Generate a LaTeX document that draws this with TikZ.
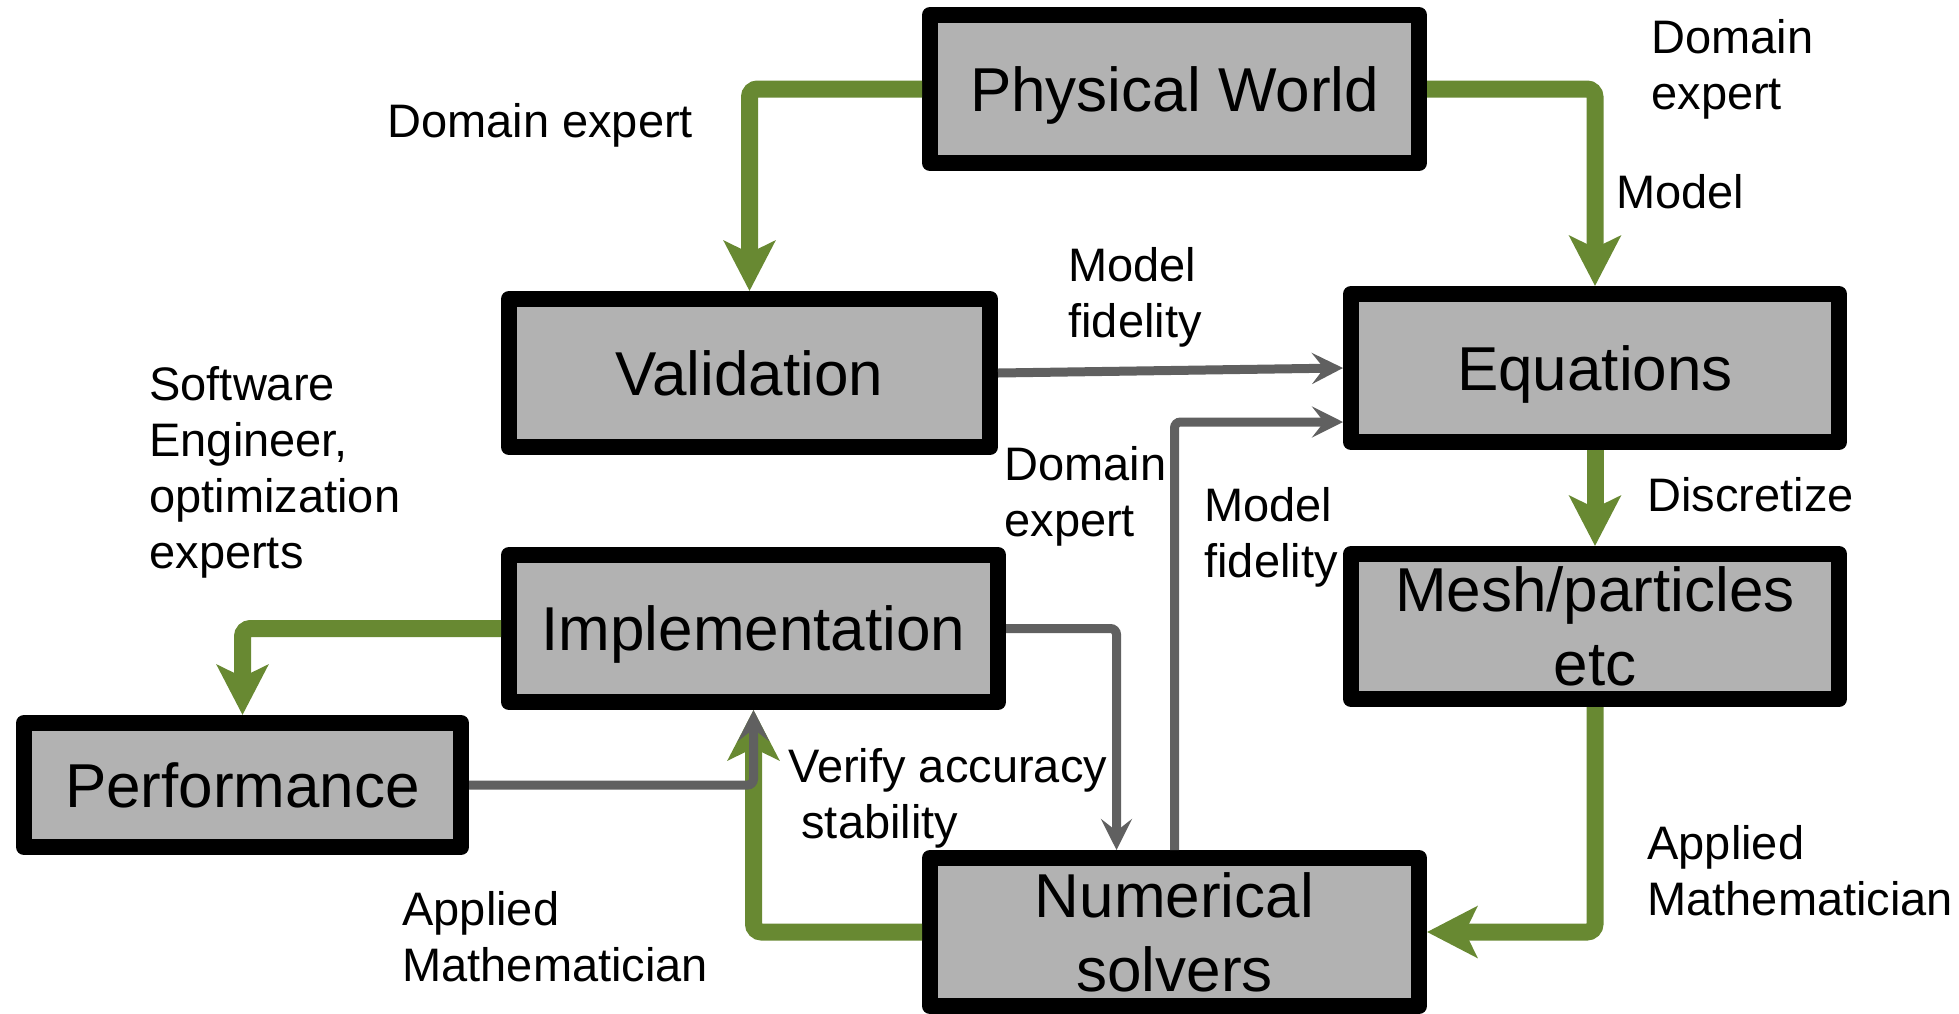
\documentclass[tikz,border=0pt]{standalone}
\usepackage{fontspec}
\setmainfont{Liberation Sans}
\usetikzlibrary{arrows.meta,positioning,calc}
\definecolor{boxgray}{RGB}{178,178,178}
\definecolor{leaf}{RGB}{104,137,50}
\definecolor{rod}{RGB}{96,96,96}
\newcommand{\boxfont}{\fontsize{31}{37}\selectfont}
\newcommand{\notefont}{\fontsize{23.5}{28}\selectfont}

\begin{document}
\begin{tikzpicture}[x=0.5pt,y=-0.5pt,
    block/.style={draw=black,line width=8pt,line join=round,fill=boxgray,
      font=\boxfont,inner sep=0pt,minimum width=244.5pt,minimum height=74pt},
    flat/.style={block,text depth=0pt},
    tall/.style={block,align=center},
    note/.style={anchor=north west,align=left,inner sep=0pt,font=\notefont},
    work/.style={draw=leaf,line width=8.5pt,rounded corners=4pt,
      -{Stealth[length=25pt,width=25.5pt,inset=6pt]}},
    check/.style={draw=rod,line width=4.5pt,rounded corners=3pt,
      -{Stealth[length=15.5pt,width=15.5pt,inset=6pt]}}]
      \useasboundingbox (0,0) rectangle (1959,1013);
      % Stages
      \node[flat] (world) at (1174.5,89) {Physical World};
      \node[flat,minimum width=240.5pt] (valid) at (749.5,373) {Validation};
      \node[flat,minimum width=244pt] (eqn) at (1595,368) {Equations};
      \node[tall,minimum width=244pt,minimum height=72.5pt] (mesh) at (1595,626.5) {Mesh/particles\\etc};
      \node[flat,minimum height=73.5pt] (impl) at (753.5,628.5) {Implementation};
      \node[flat,minimum width=218.5pt,minimum height=62pt] (perf) at (242.5,785) {Performance};
      \node[tall] (solver) at (1174.5,932) {Numerical\\solvers};
      % Who does it
      \node[note] (expA) at (387,103) {Domain expert};
      \node[note] (expB) at (1651,19) {Domain\\expert};
      \node[note] (model) at (1616,174) {Model};
      \node[note] (fidA) at (1068,247) {Model\\fidelity};
      \node[note] (soft) at (149,366) {Software\\Engineer,\\optimization\\experts};
      \node[note] (disc) at (1647,477) {Discretize};
      \node[note] (expC) at (1004,446) {Domain\\expert};
      \node[note] (fidB) at (1204,487) {Model\\fidelity};
      \node[note] (verify) at (788,748) {Verify accuracy\\\ stability};
      \node[note] (mathA) at (402,891) {Applied\\Mathematician};
      \node[note] (mathB) at (1647,825) {Applied\\Mathematician};
      % Main flow
      \draw[work] (world.west) -| (valid.north);
      \draw[work] (world.east) -| (eqn.north);
      \draw[work] (eqn.south) -- (mesh.north);
      \draw[work] (mesh.south) |- (solver.east);
      \draw[work] (solver.west) -| (impl.south);
      \draw[work] (impl.west) -| (perf.north);
      % Feedback
      \draw[check] (valid.east) -- (eqn.west);
      \draw[check] (solver.north) |- ([yshift=-27pt]eqn.west);
      \draw[check] (impl.east) -| ([xshift=-29pt]solver.north);
      \draw[check] (perf.east) -| (impl.south);
    \end{tikzpicture}
\end{document}
